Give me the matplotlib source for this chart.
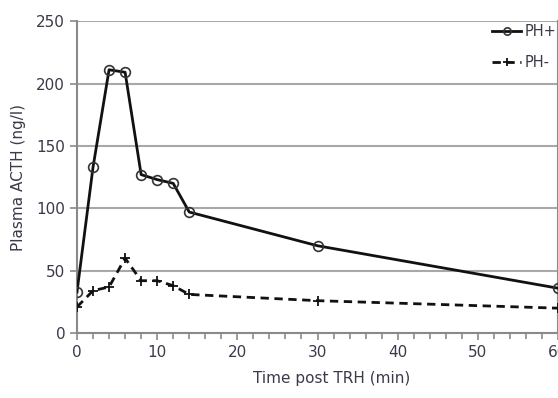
import matplotlib.pyplot as plt
from matplotlib.ticker import MultipleLocator

time_min = [0, 2, 4, 6, 8, 10, 12, 14, 30, 60]
ph_plus = [33, 133, 211, 209, 127, 123, 120, 97, 70, 36]
ph_minus = [21, 34, 37, 60, 42, 42, 38, 31, 26, 20]

TEXT = '#3a3a4a'
GRID = '#a8a8a8'

fig = plt.figure(figsize=(5.58, 3.98), dpi=100)
ax = fig.add_axes([0.138, 0.163, 0.862, 0.784])

ax.plot(time_min, ph_plus, color='#111111', lw=2, marker='o', ms=7,
        mfc='none', mec='#333333', mew=1.2, label='PH+', zorder=3)
ax.plot(time_min, ph_minus, color='#111111', lw=2, ls=(0, (3, 2)),
        marker='+', ms=7.5, mew=1.3, label='PH-', zorder=3)

ax.set_xlim(0, 60)
ax.set_ylim(0, 250)
ax.xaxis.set_major_locator(MultipleLocator(10))
ax.xaxis.set_minor_locator(MultipleLocator(2))
ax.yaxis.set_major_locator(MultipleLocator(50))
ax.yaxis.grid(True, color=GRID, lw=1.5)
ax.set_axisbelow(True)

ax.spines['top'].set_visible(False)
for side in ['left', 'bottom', 'right']:
    ax.spines[side].set_color('#8a8a8a')
    ax.spines[side].set_linewidth(1.5)

ax.tick_params(axis='both', which='major', colors='#8a8a8a', labelcolor=TEXT,
               labelsize=11, length=5, width=1.2)
ax.tick_params(axis='x', which='minor', colors='#8a8a8a', length=4, width=1.2)

ax.set_xlabel('Time post TRH (min)', fontsize=11, color=TEXT)
ax.set_ylabel('Plasma ACTH (ng/l)', fontsize=11, color=TEXT)
ax.xaxis.set_label_coords(0.53, -0.12)
ax.yaxis.set_label_coords(-0.105, 0.5)

leg = ax.legend(loc='upper right', frameon=False, fontsize=10.5,
                handlelength=2.0, handletextpad=0.2, labelspacing=1.1,
                markerscale=0.75, borderaxespad=0.0,
                bbox_to_anchor=(1.008, 1.01))
for t in leg.get_texts():
    t.set_color(TEXT)

fig.savefig('out.png', dpi=100)
